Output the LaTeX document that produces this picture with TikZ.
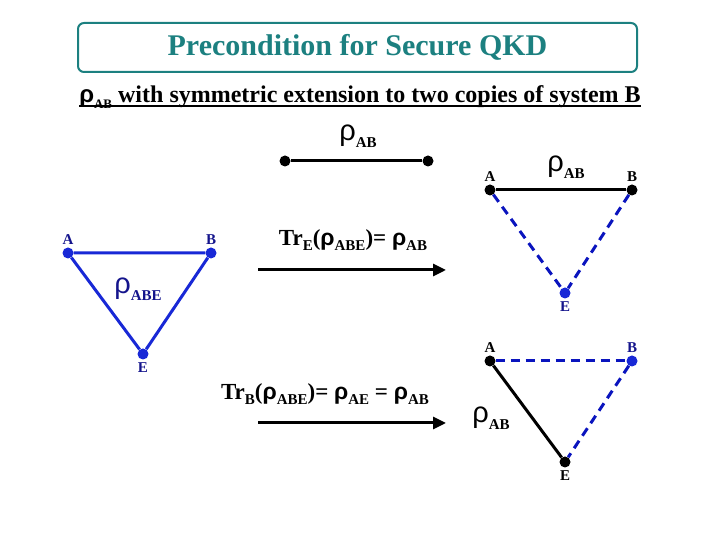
\documentclass[tikz,border=0pt]{standalone}
\usepackage{fontspec}
\setmainfont{Liberation Serif}
\newfontfamily\rhofont{Liberation Sans}
\usepackage{xcolor}
\usetikzlibrary{arrows.meta,positioning}
\definecolor{qkdteal}{RGB}{28,128,128}
\definecolor{qkdblue}{RGB}{24,40,214}
\definecolor{qkddash}{RGB}{10,20,190}
\definecolor{qkdnavy}{RGB}{20,20,140}
\newcommand{\rh}{{\rhofont ρ}}
\newcommand{\sbs}[2][15]{\raisebox{-0.25em}{\fontsize{#1}{#1}\selectfont\bfseries #2}}
\tikzset{
  titlebox/.style={
    rectangle,
    rounded corners=6pt,
    draw=qkdteal,
    line width=2pt,
    minimum width=559pt,
    minimum height=49pt,
    text=qkdteal,
    font=\fontsize{30}{30}\selectfont\bfseries
  },
  dot/.style={
    circle,
    fill=black,
    inner sep=0pt,
    minimum size=11pt
  },
  vlabel/.style={
    inner sep=0pt,
    font=\fontsize{15}{15}\selectfont\bfseries
  },
  rholabel/.style={
    inner sep=0pt,
    font=\fontsize{29}{29}\selectfont
  },
  tracelabel/.style={
    inner sep=0pt,
    font=\fontsize{23}{23}\selectfont\bfseries
  },
  solidedge/.style={
    line width=3pt,
    draw=black
  },
  dashedge/.style={
    line width=3pt,
    draw=qkddash,
    dash pattern=on 9pt off 6pt
  },
  tracearrow/.style={
    -{Triangle[length=13pt,width=12pt]},
    line width=3pt,
    draw=black
  }
}

\begin{document}
\begin{tikzpicture}[x=1pt,y=1pt]
\useasboundingbox (0,0) rectangle (720,540);
% heading
\node[titlebox] (title) at (357.5,492.5) {Precondition for Secure QKD};
\node[inner sep=0pt, font=\fontsize{24}{24}\selectfont\bfseries, anchor=base] (sub) at (360,437)
  {\rh\sbs[13]{AB} with symmetric extension to two copies of system B};
\draw[line width=1.6pt] ([yshift=-3pt]sub.base west) -- ([yshift=-3pt]sub.base east);

% rho_AB alone
\node[dot] (ta) at (285,379) {};
\node[dot] (tb) at (428,379) {};
\draw[solidedge] (ta) -- (tb);
\node[rholabel] (trho) at (358,404) {\rh\sbs{AB}};

% rho_ABE triangle
\node[dot, fill=qkdblue] (la) at (68,287) {};
\node[dot, fill=qkdblue] (lb) at (211,287) {};
\node[dot, fill=qkdblue] (le) at (143,186) {};
\draw[line width=3pt, draw=qkdblue] (la) -- (lb) -- (le) -- (la);
\node[vlabel, text=qkdnavy, above=3pt of la] {A};
\node[vlabel, text=qkdnavy, above=3pt of lb] {B};
\node[vlabel, text=qkdnavy, below=3pt of le] {E};
\node[rholabel, text=qkdnavy] (lrho) at (138,251) {\rh\sbs{ABE}};

% trace over E
\coordinate (ae1) at (258,270);
\coordinate (ae2) at (446,270);
\draw[tracearrow] (ae1) -- (ae2);
\node[tracelabel] (tre) at (353,300) {Tr\sbs{E}(\rh\sbs{ABE})= \rh\sbs{AB}};

% upper right triangle
\node[dot] (ra) at (490,350) {};
\node[dot] (rb) at (632,350) {};
\node[dot, fill=qkdblue] (re) at (565,247) {};
\draw[solidedge] (ra) -- (rb);
\draw[dashedge] (ra) -- (re);
\draw[dashedge] (rb) -- (re);
\node[vlabel, above=3pt of ra] {A};
\node[vlabel, above=3pt of rb] {B};
\node[vlabel, text=qkdnavy, below=3pt of re] {E};
\node[rholabel] (rrho) at (566,373) {\rh\sbs{AB}};

% trace over B
\coordinate (ab1) at (258,117);
\coordinate (ab2) at (446,117);
\draw[tracearrow] (ab1) -- (ab2);
\node[tracelabel] (trb) at (325,146) {Tr\sbs{B}(\rh\sbs{ABE})= \rh\sbs{AE} = \rh\sbs{AB}};

% lower right triangle
\node[dot] (qa) at (490,179) {};
\node[dot, fill=qkdblue] (qb) at (632,179) {};
\node[dot] (qe) at (565,78) {};
\draw[solidedge] (qa) -- (qe);
\draw[dashedge] (qa) -- (qb);
\draw[dashedge] (qb) -- (qe);
\node[vlabel, above=3pt of qa] {A};
\node[vlabel, text=qkdnavy, above=3pt of qb] {B};
\node[vlabel, below=3pt of qe] {E};
\node[rholabel] (qrho) at (491,122) {\rh\sbs{AB}};
\end{tikzpicture}
\end{document}
